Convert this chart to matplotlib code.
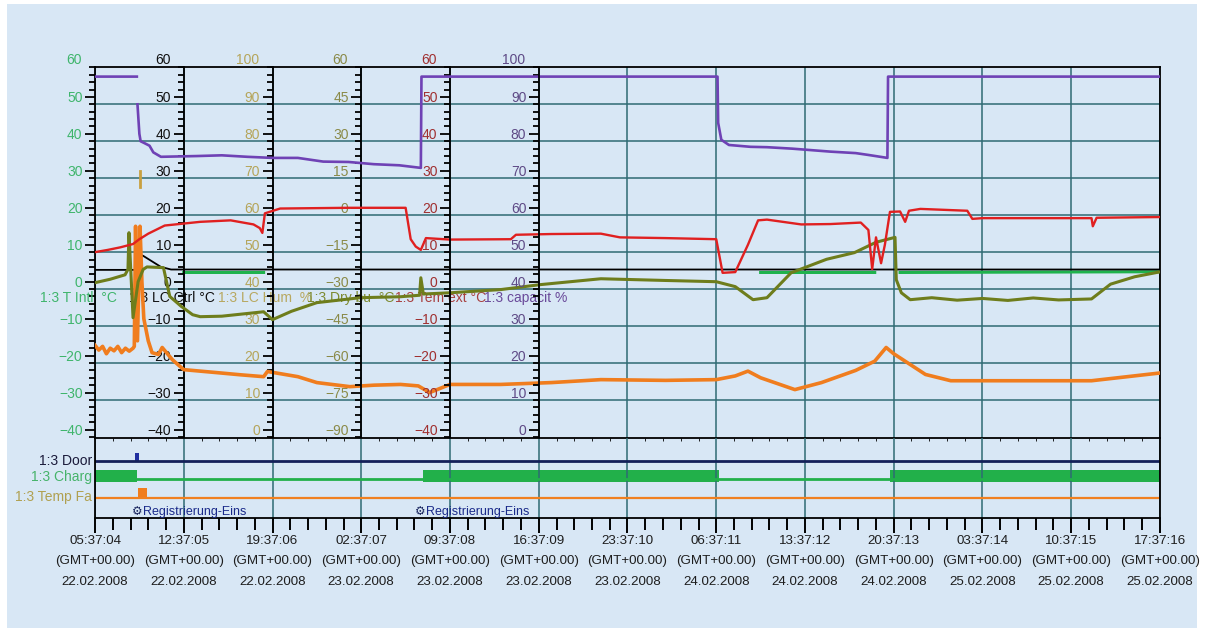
import numpy as np
import matplotlib.pyplot as plt
from matplotlib.patches import Rectangle
from matplotlib.ticker import MultipleLocator

plt.rcParams['font.family'] = ['Liberation Sans', 'DejaVu Sans']
NARROW = ['Liberation Sans', 'DejaVu Sans']

nan = np.nan

# x axis: hours since 22.02.2008 05:37:04, a major tick every 7 h
tick_hours = [0, 7, 14, 21, 28, 35, 42, 49, 56, 63, 70, 77, 84]
tick_times = ['05:37:04', '12:37:05', '19:37:06', '02:37:07', '09:37:08', '16:37:09', '23:37:10',
              '06:37:11', '13:37:12', '20:37:13', '03:37:14', '10:37:15', '17:37:16']
tick_dates = ['22.02.2008', '22.02.2008', '22.02.2008', '23.02.2008', '23.02.2008', '23.02.2008',
              '23.02.2008', '24.02.2008', '24.02.2008', '24.02.2008', '25.02.2008', '25.02.2008',
              '25.02.2008']

# 1:3 capacit %  (purple, 0..100 scale)
cap_h = [0, 3.3, 3.32, 3.35, 3.5, 3.6, 3.9, 4.3, 4.6, 5.2, 8, 10, 12, 14, 16, 18, 20, 22, 24, 25.7,
         25.75, 49.1, 49.15, 49.4, 50, 51.7, 53, 55, 58, 60, 61, 62.5, 62.55, 84]
cap_v = [95.5, 95.5, nan, 88, 80, 78, 77.5, 76.8, 75, 73.8, 74, 74.2, 73.8, 73.5, 73.5, 72.5, 72.4,
         71.8, 71.5, 70.8, 95.5, 95.5, 83, 78.4, 77, 76.5, 76.4, 76, 75.2, 74.8, 74.3, 73.5, 95.5, 95.5]

# 1:3 Tem ext °C  (red)
ext_h = [0, 1, 2, 3, 3.5, 4.2, 5.5, 8.3, 10.7, 12.5, 13.0, 13.2, 13.4, 14.6, 20, 24.5, 24.9, 25.3,
         25.7, 26.1, 28, 32.8, 33.2, 36, 39.9, 41.4, 45, 49, 49.5, 50.5, 51.5, 52.3, 53, 55.7, 58,
         60.4, 61.0, 61.3, 61.6, 62, 62.3, 62.7, 63.5, 63.9, 64.2, 65.1, 68.8, 69.2, 70, 78.6, 78.7,
         79, 84]
ext_v = [8, 8.6, 9.3, 10.2, 11.5, 13, 15.2, 16.2, 16.6, 15.5, 14.5, 13.2, 18.5, 19.8, 20, 20, 11.5,
         9.5, 8.6, 11.8, 11.4, 11.5, 12.7, 12.9, 13, 12, 11.8, 11.5, 2.4, 2.6, 10, 16.6, 16.8, 15.5,
         15.6, 16, 14, 3.4, 12, 5, 10, 18.9, 19, 16.2, 19.2, 19.7, 19.2, 17, 17.2, 17.2, 15, 17.3, 17.5]

# 1:3 LC Ctrl °C  (black)
ctrl_h = [0, 3.3, 3.32, 3.35, 3.8, 4.5, 5.2, 6, 84]
ctrl_v = [3.2, 3.2, nan, 7.5, 7, 5.5, 4, 3.3, 3.3]

# 1:3 T Intl °C  (green)
intl_h = [7.0, 13.3, 13.35, 52.5, 61.5, 61.55, 63.5, 84]
intl_v = [2.5, 2.5, nan, 2.5, 2.5, nan, 2.5, 2.7]

# 1:3 Dry bu °C  (olive, -90..60 scale)
dry_h = [0, 1.2, 2.37, 2.6, 2.68, 3.0, 3.4, 3.8, 4.1, 5.4, 5.9, 6.8, 7.7, 8.3, 10, 13.3, 14.0, 15.5,
         17.5, 20.9, 24.1, 25.6, 25.7, 25.9, 28, 32, 35.1, 39.9, 45, 49, 50.5, 51.9, 53, 54.9, 57.7,
         59.9, 61.6, 63.1, 63.2, 63.6, 64.3, 66, 68, 70, 72, 74, 76, 78.6, 80.1, 82, 84]
dry_v = [-30.4, -29, -27.2, -25, -10.1, -44.6, -30, -25, -24, -24.3, -36, -40, -43.4, -44.2, -44,
         -42.2, -45.4, -42, -38.5, -36.5, -36.1, -35.5, -28.4, -35, -34.5, -33.2, -31.2, -28.8, -29.5,
         -30, -32, -37.3, -36.5, -26.4, -20.9, -18.2, -14, -12, -29.2, -34.5, -37.3, -36.5, -37.5,
         -36.8, -37.6, -36.6, -37.4, -37, -31, -28, -26]

# 1:3 LC Hum %  (orange, 0..100 scale)
hum_h = [0, 0.3, 0.6, 0.9, 1.2, 1.5, 1.8, 2.1, 2.4, 2.7, 3.0, 3.1, 3.2, 3.35, 3.55, 3.7, 3.85, 4.2,
         4.5, 5.0, 5.3, 6.1, 7, 8.3, 9.6, 11.5, 13.3, 13.6, 16, 17.5, 20.1, 22, 24.1, 25.5, 26.4, 28,
         32, 36, 39.9, 45, 49, 50.5, 51.5, 52.5, 55.2, 57.3, 60, 61.5, 62.4, 63, 65.5, 67.5, 72, 78.6, 84]
hum_v = [22.8, 21.5, 22.5, 20.5, 22, 21.3, 22.5, 20.8, 22, 21.2, 22, 22.5, 55, 24, 55, 40, 30, 24, 20.8,
         20.3, 22.2, 18.9, 16.2, 15.8, 15.4, 14.8, 14.3, 15.7, 14.3, 12.7, 11.6, 12, 12.2, 11.8, 10,
         12.2, 12.2, 12.7, 13.5, 13.3, 13.5, 14.5, 15.8, 14, 10.8, 12.7, 16, 18.5, 22.2, 20.5, 14.9,
         13.2, 13.2, 13.2, 15.3]
hum_mark_h = [3.55, 3.55]
hum_mark_v = [65.5, 70]

# status tracks: (start hour, duration)
door_open = [(3.15, 0.35)]
charg_on = [(0, 3.3), (25.9, 23.3), (62.7, 21.3)]
temp_alarm = [(3.4, 0.7)]
reg_hours = [2.9, 25.2]

BG = '#d8e7f5'
GRID = '#2f6b73'
W, H = 1209, 634

fig = plt.figure(figsize=(W / 100, H / 100), dpi=100)
fig.patch.set_facecolor('white')
fig.add_artist(Rectangle((7 / W, 1 - 628 / H), 1190 / W, 624 / H, transform=fig.transFigure,
                         facecolor=BG, edgecolor='none', zorder=-10))

ax = fig.add_axes([95 / W, 1 - 437.5 / H, 1065 / W, 370.5 / H])
sax = fig.add_axes([95 / W, 1 - 518 / H, 1065 / W, 80.5 / H], sharex=ax)
ax.set_facecolor('none')
sax.set_facecolor('none')
ax.set_xlim(0, 84)

lim_c = (-42.16, 58.1)
lim_p = (-2.16, 98.1)
lim_d = (-93.24, 57.15)

# grid
ax.set_xticks(tick_hours)
ax.tick_params(axis='x', length=0, labelbottom=False)
ax.grid(axis='x', color=GRID, lw=1.1)
ax.set_ylim(*lim_c)
ax.hlines(np.linspace(lim_c[0], lim_c[1], 11)[1:-1], 0, 84, color=GRID, lw=1.1, zorder=0.5)
for s in ax.spines.values():
    s.set_color('black')
    s.set_linewidth(1.3)


def style_axis(a, pos, ticks, step, color, top_label):
    a.set_yticks(ticks)
    a.yaxis.set_minor_locator(MultipleLocator(step / 5))
    a.tick_params(axis='y', which='major', direction='out', length=7, width=1.3,
                  color='black', labelcolor=color, labelsize=10, pad=2)
    a.tick_params(axis='y', which='minor', direction='out', length=4.3, width=1.3, color='black')
    a.annotate(top_label, xy=(pos, 60 if top_label == '60' else 100), xycoords='data',
               xytext=(-9.5, 0), textcoords='offset points', ha='right', va='center',
               color=color, fontsize=10, annotation_clip=False)


def twin_axis(pos, lim):
    t = ax.twinx()
    t.set_ylim(*lim)
    for k in ('right', 'top', 'bottom'):
        t.spines[k].set_visible(False)
    t.spines['left'].set_visible(True)
    t.spines['left'].set_position(('data', pos))
    t.spines['left'].set_linewidth(1.3)
    t.yaxis.set_ticks_position('left')
    t.yaxis.set_label_position('left')
    return t


style_axis(ax, 0, range(-40, 51, 10), 10, '#3fb56c', '60')
ax_ctrl = twin_axis(7, lim_c)
style_axis(ax_ctrl, 7, range(-40, 51, 10), 10, '#111111', '60')
ax_hum = twin_axis(14, lim_p)
style_axis(ax_hum, 14, range(0, 91, 10), 10, '#b5a55a', '100')
ax_dry = twin_axis(21, lim_d)
style_axis(ax_dry, 21, range(-90, 46, 15), 15, '#8a8a48', '60')
ax_ext = twin_axis(28, lim_c)
style_axis(ax_ext, 28, range(-40, 51, 10), 10, '#a03030', '60')
ax_cap = twin_axis(35, lim_p)
style_axis(ax_cap, 35, range(0, 91, 10), 10, '#5e4a86', '100')

# series
ax.plot(intl_h, intl_v, color='#1fb34d', lw=2.2)
ax_ctrl.plot(ctrl_h, ctrl_v, color='black', lw=1.3)
ax_hum.plot(hum_h, hum_v, color='#f07d1e', lw=2.6)
ax_hum.plot(hum_mark_h, hum_mark_v, color='#c8a040', lw=2)
ax_dry.plot(dry_h, dry_v, color='#6e7d1c', lw=2.2)
ax_ext.plot(ext_h, ext_v, color='#e02020', lw=1.7)
ax_cap.plot(cap_h, cap_v, color='#6f42b5', lw=1.9)

# series names row
names = ['1:3 T Intl  °C', '1:3 LC Ctrl °C', '1:3 LC Hum  %', '1:3 Dry bu  °C', '1:3 Tem ext °C',
         '1:3 capacit %']
name_colors = ['#3fb56c', '#111111', '#b8a860', '#7d8a30', '#a84040', '#6a4a9a']
for i, (nm, c) in enumerate(zip(names, name_colors)):
    ax.text(7 * i - 4.3, -4.3, nm, color=c, fontsize=10, ha='left', va='center', clip_on=False)

# status tracks
sax.set_ylim(0, 4)
sax.set_yticks([])
sax.spines['top'].set_visible(False)
for k in ('left', 'right', 'bottom'):
    sax.spines[k].set_color('black')
    sax.spines[k].set_linewidth(1.3)
sax.grid(axis='x', which='major', color=GRID, lw=1.1)
sax.plot([0, 84], [2.85, 2.85], color='#14205a', lw=2)
sax.plot([0, 84], [1.95, 1.95], color='#22b04a', lw=2)
sax.plot([0, 84], [1.0, 1.0], color='#f08020', lw=1.6)
sax.broken_barh(door_open, (2.85, 0.4), facecolor='#2030a0')
sax.broken_barh(charg_on, (1.78, 0.6), facecolor='#22b04a')
sax.broken_barh(temp_alarm, (1.0, 0.5), facecolor='#f07d1e')
for h in reg_hours:
    sax.text(h, 0.32, '⚙', color='#14205a', fontsize=8.5, ha='left', va='center',
             family=['DejaVu Sans'])
    sax.text(h + 0.9, 0.32, 'Registrierung-Eins', color='#1a2a8a', fontsize=9, ha='left',
             va='center', family=NARROW)
for lab, yy, c in [('1:3 Door', 2.85, '#1a1a3a'), ('1:3 Charg', 2.05, '#46b36a'),
                   ('1:3 Temp Fa', 1.05, '#b0a050')]:
    sax.text(-0.25, yy, lab, color=c, fontsize=10, ha='right', va='center', family=NARROW,
             clip_on=False)

sax.set_xticks(tick_hours)
sax.xaxis.set_minor_locator(MultipleLocator(1.4))
sax.set_xticklabels([f'{t}\n(GMT+00.00)\n{d}' for t, d in zip(tick_times, tick_dates)])
sax.tick_params(axis='x', which='major', direction='out', length=11, width=1.4, pad=1,
                labelsize=9.6, labelcolor='#1e1e1e')
sax.tick_params(axis='x', which='minor', direction='out', length=8.5, width=1.4)
for lb in sax.get_xticklabels():
    lb.set_family(NARROW)
    lb.set_linespacing(1.95)

fig.savefig('out.png', dpi=100, facecolor=fig.get_facecolor())
